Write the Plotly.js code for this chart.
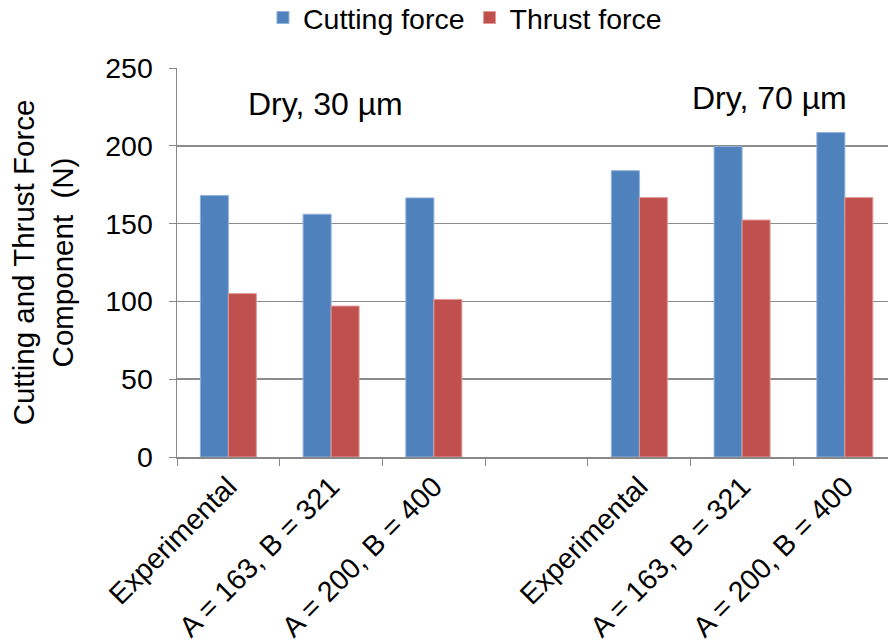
<!DOCTYPE html>
<html>
<head>
<meta charset="utf-8">
<script src="https://cdn.plot.ly/plotly-3.0.1.min.js"></script>
<style>html,body{margin:0;padding:0;background:#fff;}#chart{width:888px;height:644px;}</style>
</head>
<body>
<div id="chart"></div>
<script>
var categoryKeys = ["c0", "c1", "c2", "c3", "c4", "c5", "c6"];
var tickLabels = ["Experimental", "A = 163, B = 321", "A = 200, B = 400", "", "Experimental", "A = 163, B = 321", "A = 200, B = 400"];
var cuttingForce = [168, 156, 166.5, null, 184, 199.5, 208.5];
var thrustForce = [105, 97, 101.3, null, 166.7, 152.3, 166.7];
var groupLabels = ["Dry, 30 µm", "Dry, 70 µm"];

var font = "Liberation Sans, Arial, sans-serif";
var traces = [
  {type: "bar", name: "Cutting force", x: categoryKeys, y: cuttingForce,
   marker: {color: "#4F81BD", line: {color: "#8fb0da", width: 1}}},
  {type: "bar", name: "Thrust force", x: categoryKeys, y: thrustForce,
   marker: {color: "#C0504D", line: {color: "#e09a98", width: 1}}}
];
var layout = {
  width: 888, height: 644,
  margin: {l: 177, r: 0, t: 68, b: 187},
  paper_bgcolor: "#fff", plot_bgcolor: "#fff",
  barmode: "group", bargap: 0.455, bargroupgap: 0,
  font: {family: font, color: "#000", size: 28},
  showlegend: true,
  legend: {orientation: "h", x: 0.405, xanchor: "center", y: 1 - 18 / 644, yanchor: "middle", yref: "container",
           font: {size: 28.5}, traceorder: "normal", tracegroupgap: 0, bgcolor: "rgba(0,0,0,0)"},
  xaxis: {type: "category", range: [-0.5, 6.42], tickmode: "array", tickvals: categoryKeys, ticktext: tickLabels,
          tickangle: -45, tickson: "boundaries", ticks: "outside", ticklen: 7, tickcolor: "#888",
          showline: true, linecolor: "#888", linewidth: 1.5, showgrid: false,
          tickfont: {size: 28.5}, fixedrange: true},
  yaxis: {range: [0, 250], dtick: 50, ticks: "outside", ticklen: 7, tickcolor: "#888",
          showline: true, linecolor: "#888", linewidth: 1.5, showgrid: true, gridcolor: "#8c8c8c", gridwidth: 1.5,
          zeroline: false, tickfont: {size: 28.5}, ticklabelstandoff: 10,
          title: {text: "Cutting and Thrust Force<br>Component  (N)", font: {size: 29.5}, standoff: 23}},
  annotations: [
    {text: groupLabels[0], xref: "paper", yref: "paper", x: (325 - 177) / 711, y: (457 - 104) / 389,
     xanchor: "center", yanchor: "middle", showarrow: false, font: {size: 32}},
    {text: groupLabels[1], xref: "paper", yref: "paper", x: (769 - 177) / 711, y: (457 - 98) / 389,
     xanchor: "center", yanchor: "middle", showarrow: false, font: {size: 32}}
  ]
};
Plotly.newPlot("chart", traces, layout, {displayModeBar: false, staticPlot: true});
</script>
</body>
</html>
